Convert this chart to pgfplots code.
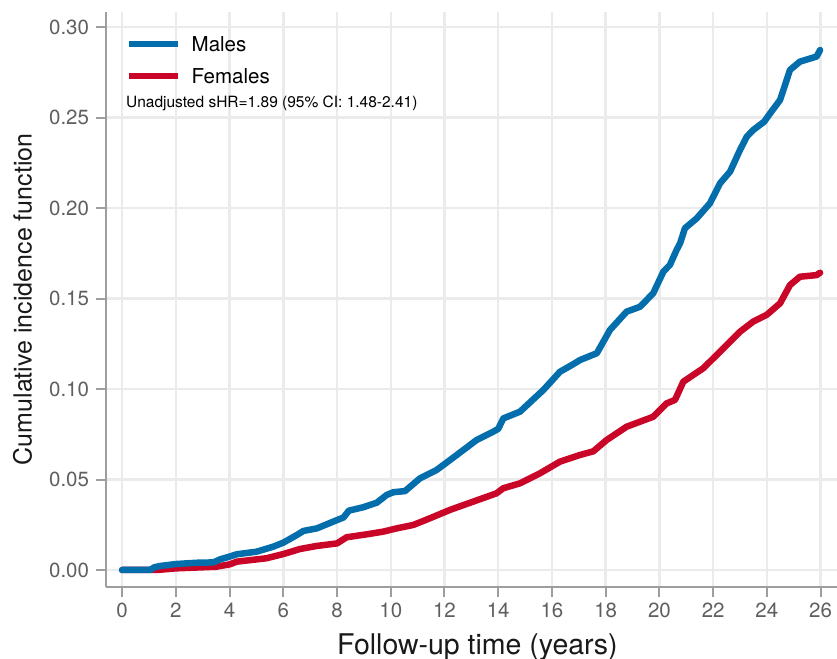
\documentclass[border=0pt]{standalone}
\usepackage{pgfplots}
\pgfplotsset{compat=1.18}
\usepackage{fontspec}
\setmainfont{TeX Gyre Heros}
\definecolor{mblue}{RGB}{4,110,172}
\definecolor{fred}{RGB}{202,6,40}
\definecolor{gridc}{RGB}{235,235,235}
\definecolor{axc}{RGB}{158,158,158}
\definecolor{tickc}{RGB}{95,95,95}
\definecolor{labc}{RGB}{25,25,25}

\pgfplotstableread{
x y
0 0
1.04 0
1.2 0.0015
1.41 0.0022
2.0 0.0033
2.78 0.0040
3.4 0.0042
3.65 0.0059
4.0 0.0074
4.27 0.0087
5.0 0.0101
5.63 0.0129
6.0 0.0151
6.5 0.0193
6.75 0.0216
7.25 0.0230
8.0 0.0276
8.24 0.0290
8.44 0.0328
8.98 0.0347
9.48 0.0372
9.85 0.0415
10.1 0.0430
10.53 0.0436
11.09 0.0507
11.71 0.0553
12.46 0.0636
13.2 0.0719
13.82 0.0765
14.0 0.0780
14.19 0.0838
14.81 0.0875
15.68 0.0995
16.3 0.1096
16.74 0.1133
17.05 0.1161
17.67 0.1198
18.16 0.1327
18.78 0.1428
19.28 0.1455
19.77 0.1530
20.15 0.1650
20.39 0.1686
20.64 0.1769
20.77 0.1806
20.95 0.1889
21.39 0.1944
21.88 0.2027
22.26 0.2138
22.63 0.2202
23.0 0.2322
23.25 0.2395
23.49 0.2432
23.9 0.2478
24.12 0.2524
24.49 0.2598
24.86 0.2764
25.23 0.2810
25.85 0.2838
25.98 0.2874
}\males

\pgfplotstableread{
x y
0 0
1.29 0
2.0 0.0009
3.5 0.0018
4.0 0.0031
4.27 0.0046
5.38 0.0065
6.0 0.0088
6.62 0.0116
7.25 0.0133
8.0 0.0147
8.36 0.0181
9.1 0.0197
9.72 0.0212
10.22 0.0230
10.84 0.0249
11.46 0.0286
12.2 0.0332
13.07 0.0378
13.94 0.0424
14.19 0.0452
14.81 0.0479
15.56 0.0535
16.3 0.0599
17.05 0.0636
17.54 0.0656
18.04 0.0719
18.78 0.0792
19.77 0.0847
20.27 0.0921
20.58 0.0940
20.89 0.1041
21.63 0.1115
22.26 0.1207
23.0 0.1317
23.49 0.1373
23.99 0.1410
24.49 0.1474
24.86 0.1575
25.23 0.1621
25.85 0.1630
25.98 0.1643
}\females

\begin{document}
\begin{tikzpicture}
\useasboundingbox (0,0) rectangle (837pt,658pt);
\begin{axis}[
  at={(105.7pt,71pt)}, anchor=south west,
  scale only axis, width=731.3pt, height=575.3pt,
  xmin=-0.61, xmax=26.61, ymin=-0.0094, ymax=0.3086,
  axis x line*=bottom, axis y line*=left,
  axis line style={-, draw=axc, line width=2pt},
  xtick={0,2,...,26},
  ytick={0,0.05,0.10,0.15,0.20,0.25,0.30},
  yticklabels={0.00,0.05,0.10,0.15,0.20,0.25,0.30},
  /pgf/number format/assume math mode=true,
  tick align=outside, major tick length=10pt,
  tick style={draw=axc, line width=2pt},
  grid=major, major grid style={draw=gridc, line width=2.5pt},
  tick label style={font=\fontsize{20.5}{24}\selectfont, text=tickc},
  xticklabel style={inner sep=0pt, yshift=-6pt},
  yticklabel style={inner sep=0pt, xshift=-6.5pt},
  xlabel={Follow-up time (years)},
  xlabel style={at={(rel axis cs:0.5,0)}, anchor=base, yshift=-67pt, xshift=6pt, font=\fontsize{28.5}{32}\selectfont, text=labc},
  ylabel={Cumulative incidence function},
  ylabel style={at={(rel axis cs:-0.1138,0.5)}, anchor=center, font=\fontsize{25}{30}\selectfont, text=labc},
  legend image code/.code={\draw[#1, line width=6.5pt, line cap=butt] (0pt,0pt) -- (49pt,0pt);},
  reverse legend,
  legend cell align=left,
  legend style={at={(rel axis cs:0,1)}, anchor=north west, xshift=20.3pt, yshift=-24.5pt,
    draw=none, fill=none, inner sep=0pt, row sep=17pt, column sep=0pt,
    font=\fontsize{20.5}{24}\selectfont,
    nodes={inner sep=0pt, text height=15pt, text depth=0pt},
    /tikz/every odd column/.append style={column sep=10pt}},
  clip=false,
]
\addplot[draw=fred, line width=6.5pt, line join=round, line cap=round] table[x=x,y=y] {\females};
\addlegendentry{Females}
\addplot[draw=mblue, line width=6.5pt, line join=round, line cap=round] table[x=x,y=y] {\males};
\addlegendentry{Males}
\node[anchor=base west, inner sep=0pt, font=\fontsize{15.5}{18}\selectfont, text=black] at (rel axis cs:0,1) [xshift=20.3pt, yshift=-95.5pt] {Unadjusted sHR=1.89 (95\% CI: 1.48-2.41)};
\end{axis}
\end{tikzpicture}
\end{document}
